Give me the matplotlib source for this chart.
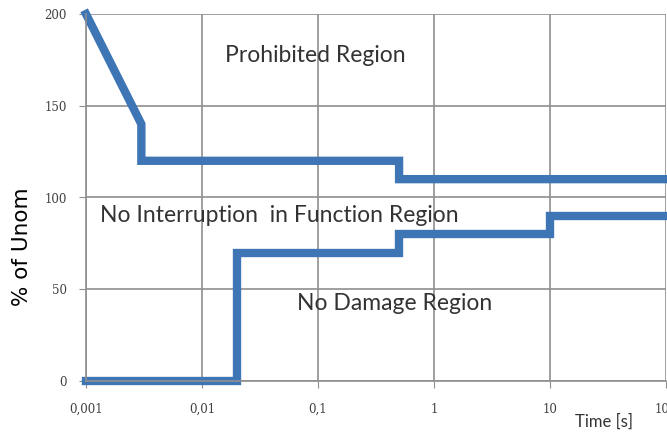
import matplotlib
matplotlib.use('Agg')
import matplotlib.pyplot as plt

# upper limit curve (prohibited region boundary)
upper_t = [0.001, 0.003, 0.003, 0.5, 0.5, 100]
upper_v = [200, 140, 120, 120, 110, 110]
# lower limit curve (no damage region boundary)
lower_t = [0.001, 0.02, 0.02, 0.5, 0.5, 10, 10, 100]
lower_v = [0, 0, 70, 70, 80, 80, 90, 90]

xticks = [0.001, 0.01, 0.1, 1, 10, 100]
xlabels = ['0,001', '0,01', '0,1', '1', '10', '100']
yticks = [0, 50, 100, 150, 200]

plt.rcParams['font.family'] = ['Lato', 'DejaVu Sans']

fig = plt.figure(figsize=(6.67, 4.4), dpi=100)
ax = fig.add_axes([86/667, 1 - 381/440, 580/667, 367/440])

blue = '#3e75b5'
ax.plot(upper_t, upper_v, color=blue, lw=6, solid_joinstyle='miter', clip_on=False)
ax.plot(lower_t, lower_v, color=blue, lw=6, solid_joinstyle='miter', clip_on=False)

ax.set_xscale('log')
ax.set_xlim(0.001, 100)
ax.set_ylim(0, 200)
ax.set_xticks(xticks)
ax.set_xticklabels(xlabels)
ax.minorticks_off()
ax.set_yticks(yticks)
ax.grid(True, color='#8f8f8f', lw=1.2)
ax.set_axisbelow(True)
for s in ['top', 'right']:
    ax.spines[s].set_visible(False)
for s in ['left', 'bottom']:
    ax.spines[s].set_color('#8f8f8f')
    ax.spines[s].set_linewidth(1.2)
ax.tick_params(colors='#8f8f8f', labelcolor='#404040', labelsize=8.5, length=5)
ax.tick_params(axis='x', pad=11)
ax.tick_params(axis='y', pad=9)
for lab in ax.get_xticklabels() + ax.get_yticklabels():
    lab.set_family('DejaVu Serif')

txt = dict(fontsize=16.5, color='#333333', ha='left', va='center')
fig.text(225/667, 1 - 55/440, 'Prohibited Region', **txt)
fig.text(100/667, 1 - 215/440, 'No Interruption  in Function Region', **txt)
fig.text(297/667, 1 - 303/440, 'No Damage Region', **txt)

fig.text(575/667, 1 - 422/440, 'Time [s]', fontsize=12, color='#333333',
         ha='left', va='center')
fig.text(22/667, 1 - 247/440, '% of Unom', fontsize=15.5, color='black',
         rotation=90, ha='center', va='center', family='DejaVu Sans')

fig.savefig('out.png', dpi=100)
